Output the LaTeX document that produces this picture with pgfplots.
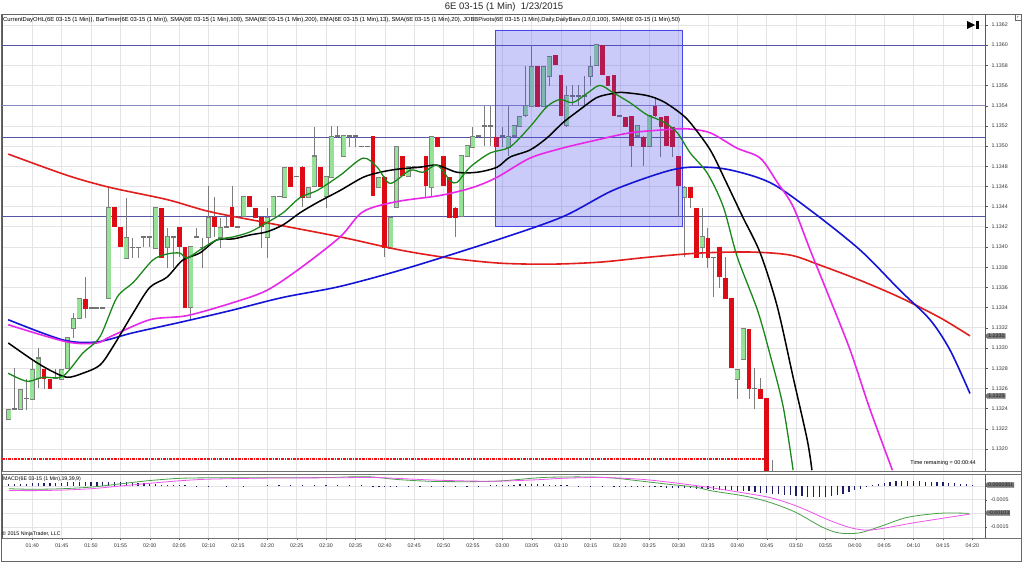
\documentclass[border=0pt]{standalone}
\usepackage{fontspec}
\setmainfont{Liberation Sans}
\usepackage{graphicx}
\usepackage{pgfplots}
\pgfplotsset{compat=1.18}
\usepackage{pgfplotstable}
\usetikzlibrary{shapes.symbols}

\definecolor{upc}{RGB}{150,226,150}
\definecolor{dnc}{RGB}{222,10,20}
\definecolor{wickc}{RGB}{125,125,125}
\definecolor{pivc}{RGB}{85,85,165}
\definecolor{emac}{RGB}{25,135,25}
\definecolor{s50}{RGB}{232,40,232}
\definecolor{s100}{RGB}{20,20,215}
\definecolor{s200}{RGB}{225,30,30}
\definecolor{gridc}{RGB}{228,228,232}
\definecolor{boxc}{RGB}{70,70,235}
\definecolor{histc}{RGB}{30,30,100}
\definecolor{tagc}{RGB}{120,120,120}
\definecolor{lowc}{RGB}{240,20,20}

\newcommand\tk{\fontsize{5.3}{6}\selectfont}
\pgfplotsset{candle/.style={only marks, mark=none, mark size=0pt,
  mark options={draw=none, fill=none}}}

\pgfplotstableread{
m o h l c
96 1.1323 1.1324 1.1323 1.1324
97 1.1324 1.1328 1.1324 1.1324
98 1.1324 1.1326 1.1324 1.1326
99 1.1325 1.1327 1.1324 1.1325
100 1.1325 1.1329 1.1325 1.1328
101 1.1327 1.1330 1.1326 1.1329
102 1.1328 1.1328 1.1326 1.1327
103 1.1327 1.1327 1.1326 1.1326
104 1.1327 1.1328 1.1327 1.1327
105 1.1327 1.1328 1.1327 1.1328
106 1.1328 1.1331 1.1328 1.1331
107 1.1332 1.13335 1.1331 1.1333
108 1.1333 1.1335 1.1333 1.1335
109 1.1335 1.1337 1.1333 1.1334
110 1.1334 1.1334 1.1334 1.1334
111 1.1334 1.1334 1.1334 1.1334
112 1.1334 1.1334 1.1334 1.1334
113 1.1335 1.1346 1.1335 1.1344
114 1.1344 1.1344 1.1342 1.1342
115 1.1342 1.1342 1.1340 1.1340
116 1.1339 1.1345 1.1339 1.1341
117 1.1340 1.1341 1.1339 1.1340
118 1.1340 1.1340 1.1339 1.1340
119 1.1341 1.1341 1.1340 1.1341
120 1.1341 1.1341 1.1340 1.1341
121 1.1340 1.1344 1.1340 1.1344
122 1.1344 1.1344 1.1339 1.1339
123 1.1340 1.1342 1.1338 1.1341
124 1.1341 1.1341 1.1338 1.1341
125 1.1342 1.1342 1.1339 1.1340
126 1.1340 1.1340 1.1334 1.1334
127 1.1334 1.1340 1.1333 1.1340
128 1.1341 1.1342 1.1341 1.1341
129 1.1340 1.1341 1.1338 1.1340
130 1.1341 1.1346 1.1340 1.1343
131 1.1343 1.1345 1.1341 1.1342
132 1.1341 1.1343 1.1340 1.1342
133 1.1342 1.1343 1.1342 1.1342
134 1.1344 1.1346 1.1342 1.1342
135 1.1342 1.1342 1.1342 1.1342
136 1.1343 1.1345 1.1343 1.1345
137 1.1345 1.1345 1.1344 1.1344
138 1.1344 1.1344 1.1343 1.1343
139 1.1343 1.1343 1.1340 1.1342
140 1.1341 1.1344 1.1339 1.1343
141 1.1343 1.1345 1.1343 1.1345
142 1.1345 1.1345 1.1345 1.1345
143 1.1345 1.1348 1.1345 1.1348
144 1.1348 1.1348 1.1346 1.1346
145 1.1347 1.1347 1.1347 1.1347
146 1.1348 1.1348 1.1344 1.1345
147 1.1345 1.1346 1.1345 1.1346
148 1.1346 1.1352 1.1346 1.1349
149 1.1348 1.1348 1.1346 1.1346
150 1.1345 1.1347 1.1344 1.1347
151 1.1347 1.1352 1.1347 1.1351
152 1.1351 1.1352 1.1351 1.1351
153 1.1349 1.1351 1.1349 1.1351
154 1.1351 1.1351 1.1350 1.1351
155 1.1351 1.1351 1.1350 1.1351
156 1.1350 1.1350 1.1350 1.1350
157 1.1350 1.1350 1.1350 1.1350
158 1.1351 1.1351 1.1345 1.1345
159 1.1346 1.1347 1.1346 1.1347
160 1.1347 1.1347 1.1339 1.1340
161 1.1340 1.1343 1.1340 1.1343
162 1.1344 1.1350 1.1344 1.1350
163 1.1349 1.1349 1.1347 1.1347
164 1.1347 1.1348 1.1347 1.1348
165 1.1348 1.1348 1.1348 1.1348
166 1.1348 1.1348 1.1348 1.1348
167 1.1349 1.1349 1.1345 1.1346
168 1.1346 1.1351 1.1345 1.1351
169 1.1351 1.1351 1.1350 1.1350
170 1.1349 1.1349 1.1346 1.1346
171 1.1347 1.1347 1.1343 1.1343
172 1.1344 1.1344 1.1341 1.1343
173 1.1343 1.1349 1.1343 1.1349
174 1.1349 1.1350 1.1349 1.1350
175 1.1350 1.1352 1.1350 1.1351
176 1.1351 1.1351 1.1351 1.1351
177 1.1352 1.1354 1.1350 1.1352
178 1.1352 1.1354 1.1350 1.1352
179 1.1351 1.1351 1.1350 1.1350
180 1.1351 1.1352 1.1350 1.1351
181 1.1350 1.1354 1.1349 1.1351
182 1.1351 1.1352 1.1351 1.1352
183 1.1352 1.1353 1.1352 1.1353
184 1.1353 1.1358 1.1353 1.1354
185 1.1354 1.1360 1.1354 1.1358
186 1.1358 1.1358 1.1354 1.1354
187 1.1354 1.1358 1.1354 1.1358
188 1.1357 1.1359 1.1356 1.1359
189 1.1359 1.1359 1.1358 1.1358
190 1.1357 1.1357 1.1353 1.1353
191 1.1352 1.1356 1.1352 1.1355
192 1.1355 1.1356 1.1354 1.1355
193 1.1355 1.1356 1.1354 1.1355
194 1.1355 1.1357 1.1354 1.1355
195 1.1357 1.1359 1.1356 1.1358
196 1.1358 1.1360 1.1358 1.1360
197 1.1360 1.1360 1.1357 1.1357
198 1.1357 1.1357 1.1356 1.1356
199 1.1357 1.1357 1.1353 1.1353
200 1.1353 1.1353 1.1353 1.1353
201 1.1353 1.1353 1.1352 1.1352
202 1.1353 1.1353 1.1348 1.1350
203 1.1351 1.1352 1.1351 1.1352
204 1.1351 1.1351 1.1348 1.1350
205 1.1350 1.1353 1.1350 1.1353
206 1.1354 1.1355 1.1353 1.1353
207 1.1353 1.1353 1.1349 1.1352
208 1.1353 1.1353 1.1350 1.1350
209 1.1352 1.1352 1.1349 1.1350
210 1.1349 1.1349 1.1343 1.1346
211 1.1345 1.1346 1.1339 1.1346
212 1.1346 1.1346 1.1344 1.1345
213 1.1344 1.1344 1.1339 1.1339
214 1.1340 1.1344 1.1339 1.1341
215 1.1341 1.1342 1.1338 1.1339
216 1.1339 1.1339 1.1335 1.1339
217 1.1340 1.1340 1.1336 1.1337
218 1.1337 1.1339 1.1335 1.1335
219 1.1335 1.1335 1.1328 1.1328
220 1.1327 1.1328 1.1325 1.1328
221 1.1329 1.1332 1.1329 1.1332
222 1.1332 1.1332 1.1325 1.1326
223 1.1326 1.1328 1.1324 1.1326
224 1.1326 1.1327 1.1325 1.1325
225 1.1325 1.1325 1.1316 1.1316
226 1.1316 1.1319 1.1310 1.1312
}\candles

\pgfplotstableread{
m p
95.9 1.13492
105.9 1.13471
113.2 1.13459
122.9 1.13447
130.2 1.13435
139.9 1.13424
152.4 1.13410
162.6 1.13397
171.1 1.13389
179.6 1.13384
188.1 1.13383
196.6 1.13385
205.1 1.13390
213.6 1.13394
222.2 1.13395
229.0 1.13392
234.1 1.13382
240.9 1.13367
247.7 1.13350
254.5 1.13330
259.6 1.13312
}\smaTwoHundred

\pgfplotstableread{
m p
95.9 1.13328
105.2 1.13308
111.0 1.13306
117.1 1.13315
125.6 1.13326
133.7 1.13337
142.6 1.13350
152.4 1.13361
163.8 1.13379
179.1 1.13407
190.3 1.13430
198.8 1.13456
207.4 1.13474
212.0 1.13479
218.2 1.13477
225.5 1.13464
232.3 1.13437
240.9 1.13397
247.7 1.13357
252.8 1.13328
256.2 1.13298
259.6 1.13255
}\smaHundred

\pgfplotstableread{
m p
95.9 1.13323
105.9 1.13306
111.0 1.13305
113.2 1.13311
120.0 1.13328
126.3 1.13332
134.2 1.13345
139.9 1.13357
145.6 1.13379
152.4 1.13410
156.3 1.13435
162.1 1.13445
169.4 1.13451
175.0 1.13459
179.1 1.13469
184.7 1.13488
190.3 1.13498
196.1 1.13506
201.7 1.13513
207.4 1.13516
211.4 1.13517
215.4 1.13513
219.9 1.13498
223.9 1.13488
226.8 1.13464
229.5 1.13440
232.4 1.13397
235.8 1.13348
239.2 1.13298
242.6 1.13239
246.4 1.13179
}\smaFifty

\pgfplotstableread{
m p
95.9 1.13275
99.1 1.13267
101.8 1.13271
105.2 1.13272
108.6 1.13295
111.5 1.13311
114.4 1.13350
117.2 1.13365
120.5 1.13387
122.9 1.13393
125.1 1.13394
126.3 1.13389
128.5 1.13397
131.4 1.13407
134.2 1.13410
137.1 1.13415
139.9 1.13424
142.7 1.13434
145.6 1.13449
148.5 1.13456
152.4 1.13471
156.3 1.13488
158.7 1.13479
160.9 1.13463
164.3 1.13476
166.5 1.13474
168.9 1.13481
171.1 1.13466
172.3 1.13464
174.5 1.13479
177.9 1.13493
181.3 1.13499
184.7 1.13519
187.6 1.13539
189.8 1.13546
192.0 1.13543
194.4 1.13552
196.6 1.13560
198.8 1.13553
201.7 1.13543
204.6 1.13531
207.4 1.13524
209.8 1.13513
212.0 1.13493
214.9 1.13473
217.6 1.13440
220.0 1.13390
223.4 1.13338
225.5 1.13295
227.8 1.13242
229.5 1.13179
}\emaThirteen

\pgfplotstableread{
m p
95.9 1.13305
100.1 1.13288
103.0 1.13278
105.9 1.13271
108.6 1.13275
111.5 1.13283
113.7 1.13301
117.2 1.13335
120.0 1.13360
122.9 1.13370
125.6 1.13387
128.5 1.13394
131.4 1.13407
134.2 1.13408
137.1 1.13412
139.9 1.13415
142.7 1.13422
145.6 1.13434
148.5 1.13444
152.4 1.13456
156.3 1.13469
159.2 1.13474
162.1 1.13477
166.0 1.13479
168.9 1.13481
172.3 1.13474
175.7 1.13474
179.1 1.13479
181.3 1.13489
184.7 1.13496
187.6 1.13508
190.3 1.13523
193.2 1.13536
196.1 1.13548
198.8 1.13552
200.5 1.13553
204.6 1.13550
207.4 1.13544
210.2 1.13533
212.0 1.13523
215.4 1.13496
218.2 1.13463
220.9 1.13430
223.9 1.13394
226.8 1.13341
229.5 1.13271
231.9 1.13209
232.7 1.13179
}\smaTwenty

\pgfplotstableread{
m v
96 -0.00010
100 -0.00012
105 -0.00010
110 -0.00004
115 0.00008
120 0.00020
125 0.00028
130 0.00030
140 0.00030
150 0.00031
155 0.00034
158 0.00033
162 0.00024
168 0.00017
175 0.00016
180 0.00019
186 0.00030
190 0.00033
195 0.00033
199 0.00029
204 0.00017
208 0.00007
212.8 -0.00004
215.7 -0.00018
221.3 -0.00037
225.4 -0.00059
229.8 -0.00095
234.4 -0.00150
237.3 -0.00172
240.7 -0.00172
244.1 -0.00150
248.5 -0.00117
252.0 -0.00105
255.3 -0.00099
259.4 -0.00100
}\macdLine

\pgfplotstableread{
m v
96 -0.00016
100 -0.00017
105 -0.00015
110 -0.00010
115 0.00000
120 0.00010
125 0.00019
130 0.00025
140 0.00029
150 0.00030
158 0.00031
162 0.00028
168 0.00022
175 0.00018
180 0.00018
186 0.00023
190 0.00028
195 0.00031
199 0.00030
204 0.00024
208 0.00015
212.8 0.00002
215.7 -0.00007
221.3 -0.00026
225.9 -0.00044
230.5 -0.00077
235.6 -0.00125
239.5 -0.00154
242.9 -0.00161
249.7 -0.00136
255.3 -0.00117
259.6 -0.00103
}\macdAvg

\pgfplotstableread{
m v
96 0.00008
97 0.00008
98 0.00009
99 0.00009
100 0.00010
101 0.00010
102 0.00011
103 0.00011
104 0.00012
105 0.00012
106 0.00013
107 0.00014
108 0.00015
109 0.00015
110 0.00016
111 0.00016
112 0.00016
113 0.00016
114 0.00015
115 0.00014
116 0.00013
117 0.00012
118 0.00011
119 0.00010
120 0.00008
121 0.00006
122 0.00004
123 0.00003
124 0.00002
125 0.00002
126 0.00002
128 0.00001
130 0.00001
133 0.00001
136 0.00001
140 0.00002
142 0.00002
144 0.00002
146 0.00002
148 0.00002
150 0.00002
152 0.00002
154 0.00002
156 0.00002
158 -0.00002
159 -0.00003
160 -0.00003
161 -0.00002
162 -0.00002
164 -0.00001
166 -0.00001
168 -0.00001
170 -0.00001
172 -0.00001
174 0.00001
176 0.00001
178 0.00002
179 0.00002
180 0.00003
181 0.00004
182 0.00005
183 0.00006
184 0.00007
185 0.00007
186 0.00007
187 0.00006
188 0.00005
189 0.00004
190 0.00003
191 0.00002
193 0.00001
195 0.00001
197 0.00001
199 -0.00001
200 -0.00002
201 -0.00002
202 -0.00003
203 -0.00003
204 -0.00004
205 -0.00004
206 -0.00005
207 -0.00005
208 -0.00006
209 -0.00006
210 -0.00007
211 -0.00008
212 -0.00009
213 -0.00010
214 -0.00011
215 -0.00012
216 -0.00013
217 -0.00014
218 -0.00015
219 -0.00016
220 -0.00017
221 -0.00018
222 -0.00020
223 -0.00022
224 -0.00024
225 -0.00026
226 -0.00028
227 -0.00030
228 -0.00032
229 -0.00034
230 -0.00036
231 -0.00038
232 -0.00040
233 -0.00041
234 -0.00041
235 -0.00040
236 -0.00037
237 -0.00033
238 -0.00028
239 -0.00022
240 -0.00016
241 -0.00010
242 -0.00004
243 0.00003
244 0.00007
245 0.00010
246 0.00014
247 0.00017
248 0.00019
249 0.00019
250 0.00018
251 0.00017
252 0.00016
253 0.00015
254 0.00014
255 0.00013
256 0.00012
257 0.00010
258 0.00009
259 0.00007
260 0.00005
}\macdHist

\begin{document}
\begin{tikzpicture}[x=1pt,y=1pt]
\useasboundingbox (0,0) rectangle (1024,563);
\fill[white] (0,0) rectangle (1024,563);

% ---------------- price panel ----------------
\begin{axis}[
  at={(2pt,92pt)}, anchor=south west, scale only axis,
  width=983pt, height=457pt,
  xmin=94.84, xmax=262.16, ymin=1.131782, ymax=1.136307,
  axis line style={black!65},
  xtick={100,105,...,260}, xticklabels={}, xtick style={draw=none},
  ytick={1.1320,1.1322,1.1324,1.1326,1.1328,1.1330,1.1332,1.1334,1.1336,1.1338,1.1340,1.1342,1.1344,1.1346,1.1348,1.1350,1.1352,1.1354,1.1356,1.1358,1.1360,1.1362},
  yticklabels={1.1320,1.1322,1.1324,1.1326,1.1328,1.1330,1.1332,1.1334,1.1336,1.1338,1.1340,1.1342,1.1344,1.1346,1.1348,1.1350,1.1352,1.1354,1.1356,1.1358,1.1360,1.1362},
  ytick pos=right, yticklabel pos=right, tick align=outside, major tick length=3pt,
  ytick style={black!65},
  y tick label style={font=\tk, text=black!80},
  xmajorgrids, ymajorgrids, grid style={gridc, line width=0.6pt},
  scaled y ticks=false,
]
% pivot lines
\addplot[pivc, line width=0.8pt] coordinates {(94.84,1.1360) (262.16,1.1360)};
\addplot[pivc!70, line width=0.8pt] coordinates {(94.84,1.13540) (262.16,1.13540)};
\addplot[pivc, line width=0.8pt] coordinates {(94.84,1.13509) (262.16,1.13509)};
\addplot[pivc, line width=0.8pt] coordinates {(94.84,1.13430) (262.16,1.13430)};
% current day low
\addplot[draw=lowc, line width=1.2pt, densely dashdotted] coordinates {(94.84,1.1319) (224.7,1.1319)};

% wicks
\addplot[candle, error bars/.cd, y dir=both, y explicit, error mark=none,
  error bar style={draw=wickc, line width=0.9pt}]
  table[x=m, y expr={(\thisrow{h}+\thisrow{l})/2}, y error expr={(\thisrow{h}-\thisrow{l})/2}] {\candles};
% up bodies: outline then fill
\addplot[candle, restrict expr to domain={\thisrow{c}-\thisrow{o}}{0.00001:1},
  error bars/.cd, y dir=both, y explicit, error mark=none,
  error bar style={draw=black!50, line width=5pt}]
  table[x=m, y expr={(\thisrow{o}+\thisrow{c})/2}, y error expr={abs(\thisrow{o}-\thisrow{c})/2+0.000006}] {\candles};
\addplot[candle, restrict expr to domain={\thisrow{c}-\thisrow{o}}{0.00001:1},
  error bars/.cd, y dir=both, y explicit, error mark=none,
  error bar style={draw=upc, line width=3.7pt}]
  table[x=m, y expr={(\thisrow{o}+\thisrow{c})/2}, y error expr={abs(\thisrow{o}-\thisrow{c})/2-0.000004}] {\candles};
% down bodies
\addplot[candle, restrict expr to domain={\thisrow{o}-\thisrow{c}}{0.00001:1},
  error bars/.cd, y dir=both, y explicit, error mark=none,
  error bar style={draw=dnc, line width=4.8pt}]
  table[x=m, y expr={(\thisrow{o}+\thisrow{c})/2}, y error expr={abs(\thisrow{o}-\thisrow{c})/2}] {\candles};
% dojis
\addplot[candle, restrict expr to domain={abs(\thisrow{o}-\thisrow{c})}{0:0.000005},
  error bars/.cd, y dir=both, y explicit, error mark=none,
  error bar style={draw=black!55, line width=5pt}]
  table[x=m, y=o, y error expr={0.000005}] {\candles};

% highlight box
\addplot[draw=boxc, line width=0.7pt, fill=boxc, fill opacity=0.28]
  coordinates {(178.8,1.13615) (210.7,1.13615) (210.7,1.13420) (178.8,1.13420) (178.8,1.13615)};

% moving averages
\addplot[s200, line width=1.6pt, smooth] table[x=m,y=p] {\smaTwoHundred};
\addplot[s100, line width=1.6pt, smooth] table[x=m,y=p] {\smaHundred};
\addplot[s50, line width=1.6pt, smooth] table[x=m,y=p] {\smaFifty};
\addplot[black, line width=1.5pt, smooth] table[x=m,y=p] {\smaTwenty};
\addplot[emac, line width=1.3pt, smooth] table[x=m,y=p] {\emaThirteen};
\end{axis}

% ---------------- MACD panel ----------------
\begin{axis}[
  at={(2pt,25pt)}, anchor=south west, scale only axis,
  width=983pt, height=64pt,
  xmin=94.84, xmax=262.16, ymin=-0.0019048, ymax=0.00043956,
  axis line style={black!65},
  xtick={100,105,...,260},
  xticklabels={01:40,01:45,01:50,01:55,02:00,02:05,02:10,02:15,02:20,02:25,02:30,02:35,02:40,02:45,02:50,02:55,03:00,03:05,03:10,03:15,03:20,03:25,03:30,03:35,03:40,03:45,03:50,03:55,04:00,04:05,04:10,04:15,04:20},
  xtick pos=bottom, tick align=outside, major tick length=2pt,
  tick style={black!65},
  x tick label style={font=\tk, text=black!80},
  ytick={-0.0015,-0.001,-0.0005,0}, yticklabels={-0.0015,{},-0.0005,{}},
  ytick pos=right, yticklabel pos=right,
  y tick label style={font=\tk, text=black!80},
  xmajorgrids, ymajorgrids, grid style={gridc, line width=0.6pt},
  scaled y ticks=false,
]
\addplot[ycomb, histc, line width=1.2pt] table[x=m,y=v] {\macdHist};
\addplot[emac!80!white, line width=0.8pt, smooth] table[x=m,y=v] {\macdLine};
\addplot[s50!80!white, line width=0.8pt, smooth] table[x=m,y=v] {\macdAvg};
\end{axis}

% ---------------- frame & separators ----------------
\draw[black!60, line width=0.8pt] (1.5,1.5) rectangle (1021.5,549);
\draw[black!55, line width=0.8pt] (1.5,92) -- (1021.5,92);
\draw[black!55, line width=0.8pt] (1.5,89) -- (1021.5,89);
\draw[black!55, line width=0.6pt] (1.5,25) -- (1021.5,25);
\draw[black!60, line width=0.4pt] (1015,543) rectangle (1021,549);
\node[font=\fontsize{4}{4}\selectfont, inner sep=0] at (1018,546) {r};

% ---------------- texts ----------------
\node[font=\fontsize{9.5}{11}\selectfont, text=black!85] at (504,556) {6E 03-15 (1 Min)~~1/23/2015};
\node[anchor=west, inner sep=0] at (3,543) {\resizebox{677pt}{!}{\fontsize{6}{7}\selectfont CurrentDayOHL(6E 03-15 (1 Min)), BarTimer(6E 03-15 (1 Min)), SMA(6E 03-15 (1 Min),100), SMA(6E 03-15 (1 Min),200), EMA(6E 03-15 (1 Min),13), SMA(6E 03-15 (1 Min),20), JOBBPivots(6E 03-15 (1 Min),Daily,DailyBars,0,0,0,100), SMA(6E 03-15 (1 Min),50)}};
\node[anchor=east, inner sep=0, font=\fontsize{5.5}{6}\selectfont] at (976,100) {Time remaining = 00:00:44};
\node[anchor=west, inner sep=0, font=\fontsize{5.3}{6}\selectfont] at (3,84) {MACD(6E 03-15 (1 Min),19,39,9)};
\node[anchor=west, inner sep=0, font=\fontsize{5.3}{6}\selectfont] at (2,29) {© 2015 NinjaTrader, LLC};

% bar-timer glyph
\fill[black] (967,534) -- (967,542) -- (975,538) -- cycle;
\fill[black] (976,534) rectangle (978.5,542);

% value tags
\tikzset{tag/.style={signal, signal to=west, fill=tagc, draw=black!75, line width=0.3pt,
  inner sep=0.6pt, font=\tk, anchor=west, text=black!85}}
\node[tag] at (985,227) {1.1331};
\node[tag] at (985,167) {1.1325};
\node[tag] at (985,78) {0.0000351};
\node[tag] at (985,50) {-0.00103};
\end{tikzpicture}
\end{document}
